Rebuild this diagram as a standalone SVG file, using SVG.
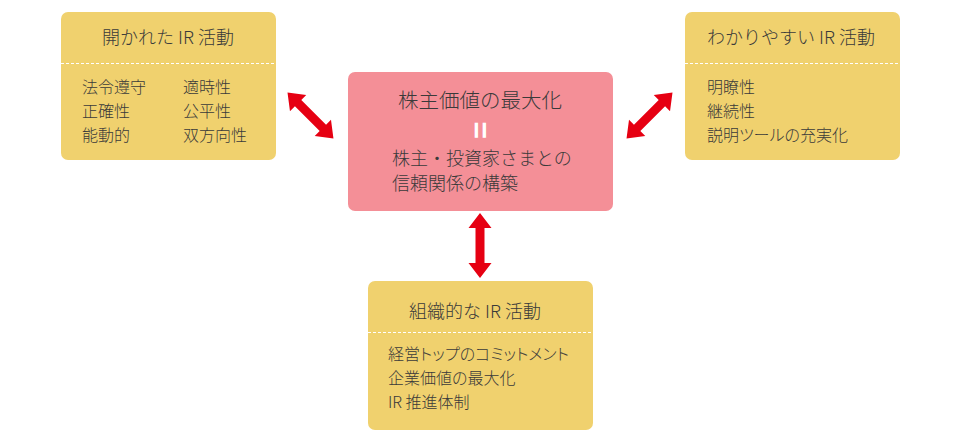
<svg xmlns="http://www.w3.org/2000/svg" width="960" height="440" viewBox="0 0 960 440">
<defs>
<style>
.box{fill:#F0D16E;}
.core{fill:#F48F97;}
.dash{stroke:#ffffff;stroke-width:1;stroke-dasharray:3 2;fill:none;}
text{font-family:"Noto Sans CJK JP","Noto Sans",sans-serif;fill:#3a3a3a;font-weight:300;}
.t{font-size:18px;text-anchor:middle;}
.b{font-size:16px;font-feature-settings:"palt";}
.c{font-size:18px;}
.arrow{fill:#E60012;}
</style>
<polygon id="dbl" points="0,0 15,-11.5 15,-4.5 50,-4.5 50,-11.5 65,0 50,11.5 50,4.5 15,4.5 15,11.5"/>
</defs>
<rect width="960" height="440" fill="#ffffff"/>
<g id="connectors" class="arrow">
<use href="#dbl" transform="translate(287.5,92.5) rotate(45)"/>
<use href="#dbl" transform="translate(672.5,92.5) rotate(135)"/>
<polygon points="480,213 491.5,228 484.5,228 484.5,263 491.5,263 480,278 468.5,263 475.5,263 475.5,228 468.5,228"/>
</g>
<g id="open-ir">
<rect class="box" x="61" y="12" width="215" height="148" rx="7"/>
<line class="dash" x1="61" y1="63.5" x2="276" y2="63.5"/>
<text class="t" x="168" y="43.5">開かれた IR 活動</text>
<text class="b" x="82" y="93">法令遵守</text>
<text class="b" x="82" y="117">正確性</text>
<text class="b" x="82" y="141">能動的</text>
<text class="b" x="183" y="93">適時性</text>
<text class="b" x="183" y="117">公平性</text>
<text class="b" x="183" y="141">双方向性</text>
</g>
<g id="clear-ir">
<rect class="box" x="685" y="12" width="215" height="148" rx="7"/>
<line class="dash" x1="685" y1="63.5" x2="900" y2="63.5"/>
<text class="t" x="791" y="43.5">わかりやすい IR 活動</text>
<text class="b" x="707" y="93">明瞭性</text>
<text class="b" x="707" y="117">継続性</text>
<text class="b" x="707" y="141">説明ツールの充実化</text>
</g>
<g id="core">
<rect class="core" x="348" y="72" width="265" height="139" rx="7"/>
<text x="480" y="108" style="font-size:20.5px;text-anchor:middle;">株主価値の最大化</text>
<text x="480" y="130.3" transform="rotate(90 480 130.3)" style="font-size:30px;font-weight:bold;fill:#ffffff;text-anchor:middle;dominant-baseline:central;font-family:'Liberation Sans',sans-serif;">=</text>
<text class="c" x="392" y="165">株主・投資家さまとの</text>
<text class="c" x="392" y="190">信頼関係の構築</text>
</g>
<g id="org-ir">
<rect class="box" x="368" y="281" width="225" height="149" rx="7"/>
<line class="dash" x1="368" y1="332.5" x2="593" y2="332.5"/>
<text class="t" x="475" y="318">組織的な IR 活動</text>
<text class="b" x="388" y="360">経営トップのコミットメント</text>
<text class="b" x="388" y="384">企業価値の最大化</text>
<text class="b" x="388" y="408">IR 推進体制</text>
</g>
</svg>
